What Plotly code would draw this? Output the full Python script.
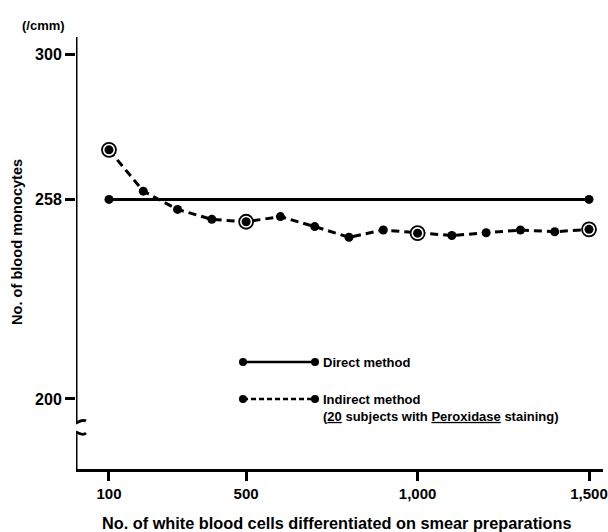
import plotly.graph_objects as go

# ---- data ----
cells = [100, 200, 300, 400, 500, 600, 700, 800, 900, 1000, 1100, 1200, 1300, 1400, 1500]
indirect = [272.4, 260.4, 255.1, 252.2, 251.5, 253.0, 250.1, 247.0, 249.1, 248.2, 247.5, 248.3, 249.1, 248.6, 249.3]
direct_x = [100, 1500]
direct_y = [258, 258]
ringed_x = [100, 500, 1000, 1500]
ringed_y = [indirect[cells.index(v)] for v in ringed_x]
x_ticks = [100, 500, 1000, 1500]
x_tick_labels = ["100", "500", "1,000", "1,500"]
y_ticks = [200, 258, 300]
y_tick_labels = ["200", "258", "300"]

FONT = "Liberation Sans, Arial, sans-serif"
W, H = 608, 532
L, R, T, B = 76, 5, 37, 63
XR = [3.8, 1540.8]
YR = [179.65, 305.2]
pw, ph = W - L - R, H - T - B


def px2x(px):
    return XR[0] + (px - L) / pw * (XR[1] - XR[0])


def px2y(py):
    return YR[0] + (T + ph - py) / ph * (YR[1] - YR[0])


fig = go.Figure()

fig.add_trace(go.Scatter(x=direct_x, y=direct_y, mode="lines+markers",
                         line=dict(color="black", width=3),
                         marker=dict(color="black", size=9), showlegend=False))
fig.add_trace(go.Scatter(x=cells, y=indirect, mode="lines",
                         line=dict(color="black", width=3, dash="8px,5px"),
                         showlegend=False))
fig.add_trace(go.Scatter(x=ringed_x, y=ringed_y, mode="markers",
                         marker=dict(color="white", size=14,
                                     line=dict(color="black", width=1.8)),
                         showlegend=False))
fig.add_trace(go.Scatter(x=cells, y=indirect, mode="markers",
                         marker=dict(color="black", size=9), showlegend=False))

shapes = []
# y axis with break
ax = px2x(L)
shapes.append(dict(type="line", xref="x", yref="y", x0=ax, x1=ax,
                   y0=YR[1], y1=px2y(422), line=dict(color="black", width=3)))
shapes.append(dict(type="line", xref="x", yref="y", x0=ax, x1=ax,
                   y0=px2y(433), y1=YR[0], line=dict(color="black", width=3)))


def path(pts):
    s = "M %f,%f" % (px2x(pts[0][0]), px2y(pts[0][1]))
    i = 1
    while i + 1 < len(pts):
        s += " Q %f,%f %f,%f" % (px2x(pts[i][0]), px2y(pts[i][1]),
                                 px2x(pts[i + 1][0]), px2y(pts[i + 1][1]))
        i += 2
    return s


shapes.append(dict(type="path", xref="x", yref="y",
                   path=path([(65, 418), (68, 426), (76, 423), (83, 419), (86, 421)]),
                   line=dict(color="black", width=2.8)))
shapes.append(dict(type="path", xref="x", yref="y",
                   path=path([(65, 437), (68, 430), (76, 432), (83, 436), (86, 433)]),
                   line=dict(color="black", width=2.8)))

# legend samples
for py, dash in [(362, "solid"), (399, "5px,3px")]:
    shapes.append(dict(type="line", xref="x", yref="y", x0=px2x(243), x1=px2x(315),
                       y0=px2y(py), y1=px2y(py), line=dict(color="black", width=2.5, dash=dash)))
    for qx in (243, 315):
        r = 4
        shapes.append(dict(type="circle", xref="x", yref="y",
                           x0=px2x(qx - r), x1=px2x(qx + r), y0=px2y(py - r), y1=px2y(py + r),
                           fillcolor="black", line=dict(color="black", width=0)))

LEG_FONT = dict(family=FONT, size=13, color="black", weight="bold")
annotations = [
    dict(text="Direct method", x=px2x(321), y=px2y(362), xref="x", yref="y",
         xanchor="left", yanchor="middle", showarrow=False, font=LEG_FONT),
    dict(text="Indirect method<br>(<u>20</u> subjects with <u>Peroxidase</u> staining)",
         x=px2x(321), y=px2y(390), xref="x", yref="y", align="left",
         xanchor="left", yanchor="top", showarrow=False, font=LEG_FONT),
    dict(text="(/cmm)", x=(43 - L) / pw, y=(H - B - 25) / ph, xref="paper", yref="paper",
         xanchor="center", yanchor="middle", showarrow=False,
         font=dict(family=FONT, size=13, color="black", weight="bold")),
    dict(text="No. of blood monocytes", x=(17 - L) / pw, y=(H - B - 242) / ph,
         xref="paper", yref="paper", textangle=-90,
         xanchor="center", yanchor="middle", showarrow=False,
         font=dict(family=FONT, size=14.6, color="black", weight="bold")),
    dict(text="No. of white blood cells differentiated on smear preparations",
         x=(337 - L) / pw, y=(H - B - 523) / ph, xref="paper", yref="paper",
         xanchor="center", yanchor="middle", showarrow=False,
         font=dict(family=FONT, size=16.3, color="black", weight="bold")),
]

fig.update_layout(
    width=W, height=H, margin=dict(l=L, r=R, t=T, b=B, autoexpand=False),
    paper_bgcolor="white", plot_bgcolor="white",
    shapes=shapes, annotations=annotations, showlegend=False,
    xaxis=dict(range=XR, showgrid=False, zeroline=False, showline=True,
               automargin=False, ticklabeloverflow="allow",
               linecolor="black", linewidth=3, ticks="outside", ticklen=9,
               tickwidth=2.5, tickcolor="black", tickvals=x_ticks,
               ticktext=x_tick_labels,
               tickfont=dict(family=FONT, size=15, color="black", weight="bold")),
    yaxis=dict(range=YR, showgrid=False, zeroline=False, showline=False,
               automargin=False,
               ticks="outside", ticklen=10, tickwidth=2.5, tickcolor="black",
               tickvals=y_ticks, ticktext=y_tick_labels,
               tickfont=dict(family=FONT, size=16, color="black", weight="bold")),
)

fig.write_html("out.html")
